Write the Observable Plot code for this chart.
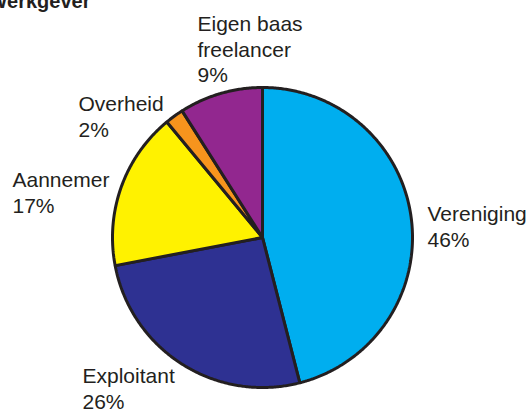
<!DOCTYPE html>
<html>
<head>
<meta charset="utf-8">
<script src="https://cdn.jsdelivr.net/npm/d3@7"></script>
<script src="https://cdn.jsdelivr.net/npm/@observablehq/plot@0.6"></script>
<style>
  html, body { margin: 0; padding: 0; background: #fff; }
  #chart { width: 530px; height: 410px; overflow: hidden; }
</style>
</head>
<body>
<div id="chart"></div>
<script>
// ---- data ----
const title = "Werkgever";
const categories = ["Vereniging", "Exploitant", "Aannemer", "Overheid", "Eigen baas freelancer"];
const values = [46, 26, 17, 2, 9];
const labelLines = [["Vereniging", "46%"], ["Exploitant", "26%"], ["Aannemer", "17%"], ["Overheid", "2%"], ["Eigen baas", "freelancer", "9%"]];
const colors = ["#00aeef", "#2e3192", "#fff200", "#f7941d", "#92278f"];

// ---- layout (pixel space) ----
const W = 530, H = 410;
const cx = 262, cy = 237, R = 150;
const labelAnchors = [[427, 203], [82, 365], [12, 169], [78, 93], [197, 13]];

// compute slices with d3.pie (start at 12 o'clock, clockwise, in given order)
const pie = d3.pie().sort(null).value(d => d.value);
const arcs = pie(categories.map((c, i) => ({category: c, value: values[i]})));
const pts = [];
for (const a of arcs) {
  const cat = a.data.category;
  pts.push({category: cat, x: cx, y: cy});
  const n = Math.max(2, Math.ceil((a.endAngle - a.startAngle) / (Math.PI / 360)));
  for (let k = 0; k <= n; k++) {
    const t = a.startAngle + (a.endAngle - a.startAngle) * k / n;
    pts.push({category: cat, x: cx + R * Math.sin(t), y: cy - R * Math.cos(t)});
  }
  pts.push({category: cat, x: cx, y: cy});
}
const labels = categories.map((c, i) => ({
  text: labelLines[i].join("\n"),
  x: labelAnchors[i][0],
  y: labelAnchors[i][1]
}));

const chart = Plot.plot({
  width: W,
  height: H,
  margin: 0,
  style: {background: "#fff", fontFamily: "'Liberation Sans', Arial, sans-serif", overflow: "hidden"},
  x: {domain: [0, W], range: [0, W], axis: null},
  y: {domain: [0, H], range: [0, H], axis: null},
  color: {domain: categories, range: colors, legend: false},
  marks: [
    Plot.line(pts, {x: "x", y: "y", z: "category", fill: "category", stroke: "#231f20", strokeWidth: 3, strokeLinejoin: "miter", curve: "linear"}),
    Plot.text(labels, {x: "x", y: "y", text: "text", textAnchor: "start", lineAnchor: "top", lineHeight: 1.2, fontSize: 21, fill: "#231f20"}),
    Plot.text([title], {x: () => -12, y: () => 7, text: d => d, textAnchor: "start", lineAnchor: "bottom", fontSize: 20, fontWeight: "bold", fill: "#231f20"})
  ]
});
document.getElementById("chart").appendChild(chart);
</script>
</body>
</html>
